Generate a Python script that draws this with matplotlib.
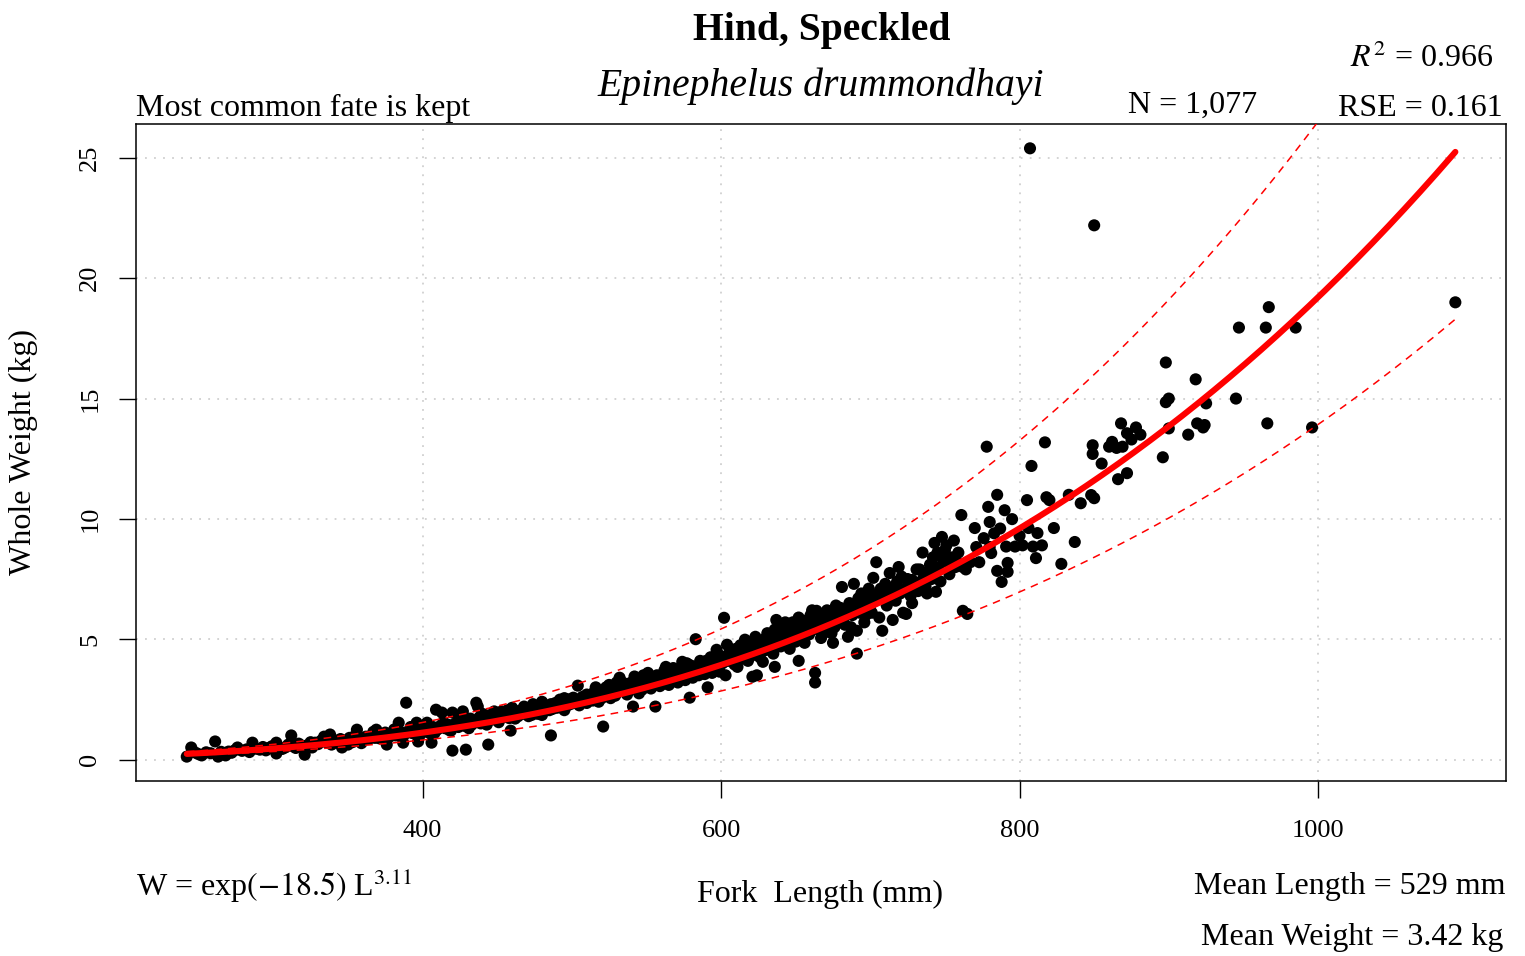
import numpy as np
import matplotlib
matplotlib.use("Agg")
import matplotlib.pyplot as plt

plt.rcParams["font.family"] = ["Liberation Serif", "DejaVu Serif"]
plt.rcParams["mathtext.fontset"] = "stix"

# fork length (mm) and whole weight (kg) of sampled fish
lengths = [
    242, 245, 248, 250, 252, 255, 258, 261, 263, 265, 268, 270, 272, 274, 276, 279, 282, 284, 286, 288,
    291, 293, 295, 297, 299, 302, 302, 304, 306, 308,
    310, 312, 313, 315, 317, 319, 321, 323, 325, 326, 328, 330, 332, 334, 336, 338, 339, 341, 343, 345,
    346, 348, 350, 351, 353, 355, 356, 358, 360, 362, 364, 366, 368, 369, 371, 373, 375, 376, 378, 380,
    382, 384, 385, 387, 388, 389, 391, 393, 395, 396, 397, 399, 401, 403, 404, 406, 407, 409, 410, 412,
    413, 415, 417, 418, 420, 420,
    422, 424, 425, 427, 428, 429, 430, 432, 433, 435, 436, 437, 438, 439, 441, 442, 444, 444, 446, 447,
    449, 450, 452, 453, 455, 456, 458, 459, 460, 461, 463, 464, 466, 467, 469, 470, 472, 473, 475, 476,
    478, 479, 481, 482, 484, 486, 486, 487, 489, 490, 492, 493, 495, 496, 498, 499, 501, 502, 504, 505,
    507, 508, 510, 511,
    513, 514, 516, 517, 519, 520, 521, 522, 524, 525, 527, 528, 530, 531, 532, 533, 535, 536, 538, 539,
    541, 541, 543, 544, 546, 547, 549, 550, 551, 552, 554, 555, 556, 557, 558, 560, 561, 563, 564, 566,
    567, 569, 570, 572, 573, 574, 575, 577, 577, 579, 579, 580, 582, 583, 584, 585, 587, 588, 590, 591,
    592, 594, 595, 596, 597, 598, 600, 601, 602, 603, 604, 605,
    607, 608, 610, 611, 612, 614, 615, 616, 617, 619, 620, 621, 622, 624, 624, 625, 627, 628, 629, 630,
    632, 633, 634, 636, 636, 637, 638, 639, 640, 641, 643, 644, 645, 647, 648, 649, 650, 651, 652, 652,
    654, 655, 657, 658, 659, 661, 661, 663, 663, 663, 664, 665, 666, 668, 669, 670, 672, 673, 675, 675,
    676, 678, 679, 680, 681, 682, 684, 685, 686, 687, 688, 689, 690, 691, 691, 692, 693, 695, 697, 698,
    700,
    702, 703, 704, 705, 706, 707, 708, 709, 710, 711, 712, 713, 714, 715, 716, 717, 718, 720, 721, 722,
    723, 724, 725, 726, 728, 728, 730, 731, 732, 733, 734, 735, 736, 737, 738, 739, 740, 741, 743, 744,
    744, 745, 746, 748, 749, 751, 752, 755, 757, 759, 761, 762, 762, 764, 765, 767, 770, 771, 773, 776,
    778, 779, 780, 780, 781, 783, 785, 785, 787, 788, 790, 791, 792, 792, 795, 797,
    800, 802, 805, 806, 807, 808, 809, 811, 812, 815, 817, 818, 820, 823, 828, 833, 837, 841, 848, 849,
    849, 850, 850, 855, 860, 862, 865, 866, 868, 869, 872, 872, 875, 878, 881, 896, 898, 898, 900, 900,
    913, 918, 919, 923, 924, 925, 945, 947, 965, 966, 967, 985, 996, 1092,
    354, 359, 367, 374, 381, 386, 392, 398, 402, 408, 414, 419, 426, 431, 440, 443, 448, 451, 457, 462,
    468, 471, 474, 477, 480, 480, 485, 495, 495, 505, 510, 515, 518, 523, 526, 529, 534, 537, 540, 542,
    545, 548, 553, 559, 562, 565, 568, 571, 576, 578, 581, 586, 589, 593, 599, 606, 609, 613, 618, 623,
    626, 631, 635, 642, 646, 653, 656, 660, 667, 671, 674, 677, 683, 694, 696, 699, 701, 719, 727, 742,
    747, 750, 753, 756, 758,
]
weights = [
    0.12, 0.50, 0.28, 0.22, 0.17, 0.30, 0.26, 0.75, 0.12, 0.32, 0.17, 0.33, 0.28, 0.38, 0.50, 0.36, 0.42, 0.31, 0.70, 0.45,
    0.41, 0.52, 0.38, 0.48, 0.55, 0.70, 0.25, 0.50, 0.44, 0.50,
    0.62, 1.00, 0.55, 0.48, 0.66, 0.58, 0.20, 0.60, 0.72, 0.50, 0.70, 0.64, 0.78, 0.95, 0.70, 1.04, 0.62, 0.80, 0.74, 0.85,
    0.50, 0.78, 0.62, 0.90, 0.72, 0.88, 1.24, 0.83, 0.78, 0.95, 0.85, 1.00, 0.90, 1.24, 0.88, 1.05, 1.12, 0.62, 0.95, 1.10,
    1.00, 1.53, 1.15, 0.70, 1.05, 2.36, 1.20, 1.10, 1.25, 1.53, 0.75, 1.18, 1.30, 1.53, 1.12, 0.70, 1.35, 2.07, 1.25, 1.40,
    1.95, 1.30, 1.45, 1.22, 0.37, 1.95,
    1.50, 1.35, 1.62, 2.00, 1.40, 0.41, 1.55, 1.70, 1.45, 1.60, 2.36, 2.20, 1.75, 1.50, 1.68, 1.85, 0.62, 1.60, 1.78, 1.90,
    1.65, 1.85, 1.70, 2.00, 1.80, 1.95, 1.72, 1.20, 2.15, 1.88, 2.00, 1.80, 2.05, 1.90, 2.10, 1.95, 2.07, 1.85, 2.20, 2.00,
    2.15, 1.92, 2.25, 2.05, 2.20, 1.00, 2.30, 2.10, 2.35, 2.15, 2.49, 2.25, 2.40, 2.20, 2.50, 2.30, 2.57, 2.35, 3.07, 2.45,
    2.60, 2.40, 2.70, 2.50,
    2.65, 2.45, 3.00, 2.60, 2.80, 2.55, 1.37, 2.85, 2.70, 3.10, 2.75, 2.95, 3.20, 2.80, 3.40, 2.90, 3.05, 2.85, 3.15, 2.95,
    2.20, 3.25, 3.00, 3.35, 3.10, 2.90, 3.30, 3.15, 3.60, 3.05, 3.40, 3.20, 2.20, 3.50, 3.25, 3.45, 3.15, 3.85, 3.35, 3.55,
    3.30, 3.70, 3.40, 3.60, 3.35, 4.06, 3.75, 4.00, 3.45, 2.57, 3.65, 3.90, 3.55, 5.00, 3.80, 3.50, 3.95, 3.70, 4.10, 3.00,
    3.80, 3.60, 4.20, 3.90, 4.56, 3.75, 4.30, 4.00, 5.89, 3.50, 4.77, 4.10,
    4.40, 4.15, 4.60, 3.85, 4.30, 4.70, 4.20, 4.98, 4.45, 4.85, 4.30, 3.44, 4.60, 3.50, 4.90, 4.45, 4.75, 4.06, 5.00, 4.55,
    4.85, 5.10, 4.60, 3.85, 5.40, 5.80, 4.90, 5.10, 4.70, 5.25, 5.70, 4.95, 5.30, 5.05, 5.70, 5.45, 4.90, 5.20, 5.90, 4.10,
    5.50, 5.10, 5.35, 5.80, 5.20, 6.20, 5.50, 3.60, 3.20, 5.70, 6.18, 5.40, 5.75, 5.55, 5.90, 5.30, 5.70, 6.10, 4.85, 5.80,
    5.50, 6.00, 5.70, 6.30, 7.17, 5.90, 6.20, 5.10, 6.50, 5.50, 6.00, 7.30, 6.40, 4.40, 5.35, 6.70, 6.10, 6.50, 6.00, 6.80,
    6.40,
    7.55, 6.60, 8.20, 6.90, 5.90, 7.10, 5.35, 6.70, 7.30, 6.40, 7.00, 7.75, 6.80, 5.80, 7.20, 6.60, 7.40, 6.90, 7.60, 6.10,
    7.10, 6.05, 7.50, 7.00, 7.46, 6.50, 7.30, 7.90, 7.00, 7.90, 7.40, 8.60, 7.60, 7.20, 6.90, 7.80, 8.10, 7.50, 9.00, 6.97,
    8.00, 8.60, 7.90, 9.25, 8.30, 8.90, 8.20, 8.40, 8.00, 8.60, 10.16, 6.18, 8.00, 7.90, 6.05, 8.20, 9.62, 8.83, 8.20, 9.20,
    13.00, 10.50, 9.87, 8.83, 8.58, 9.40, 11.00, 7.84, 9.60, 7.38, 10.36, 8.85, 8.17, 7.80, 9.99, 8.85,
    9.30, 8.90, 10.78, 9.62, 25.40, 12.20, 8.85, 8.37, 9.41, 8.90, 13.18, 10.90, 10.78, 9.62, 8.13, 11.00, 9.04, 10.65, 10.99, 13.06,
    12.70, 22.20, 10.86, 12.30, 13.00, 13.20, 12.95, 11.65, 13.97, 13.00, 13.56, 11.90, 13.30, 13.80, 13.50, 12.56, 16.50, 14.85, 15.00, 13.76,
    13.50, 15.80, 13.97, 13.80, 13.90, 14.80, 15.00, 17.95, 17.95, 13.97, 18.80, 17.95, 13.80, 19.00,
    0.95, 0.68, 1.15, 0.85, 1.25, 0.95, 1.35, 1.00, 1.45, 1.10, 1.55, 1.20, 1.75, 1.30, 1.90, 1.45, 2.00, 1.55, 2.05, 1.70,
    2.20, 1.80, 2.30, 1.90, 2.40, 1.85, 2.05, 2.55, 2.05, 2.25, 2.35, 2.80, 2.40, 3.00, 2.55, 2.65, 3.20, 2.70, 2.95, 3.45,
    2.75, 3.50, 2.95, 3.05, 3.70, 3.10, 3.80, 3.20, 3.30, 3.95, 3.40, 4.10, 3.55, 4.25, 3.65, 4.50, 3.95, 4.75, 4.10, 5.10,
    4.25, 5.25, 4.40, 5.50, 4.60, 5.75, 4.85, 6.00, 5.05, 6.20, 5.25, 6.40, 5.60, 6.90, 5.70, 7.10, 6.10, 8.00, 6.80, 8.40,
    7.40, 8.70, 7.70, 9.10, 8.20,
]

# fitted length-weight relation W = exp(a) * L^b
log_a = -18.5
b = 3.106
rse = 0.161

L = np.array(lengths, dtype=float)
W = np.array(weights, dtype=float)

fig = plt.figure(figsize=(15.25, 9.56), dpi=100)
ax = fig.add_axes([0.0892, 0.1831, 0.8984, 0.6872])

ax.scatter(L, W, s=76, color="black", edgecolors="none", zorder=3)

grid_L = np.linspace(L.min(), L.max(), 400)
fit = np.exp(log_a) * grid_L ** b
ax.plot(grid_L, fit, color="red", lw=4.4, zorder=4, solid_capstyle="round")
ax.plot(grid_L, fit * np.exp(2 * rse), color="red", lw=1.1, dashes=(5, 4), zorder=4)
ax.plot(grid_L, fit * np.exp(-2 * rse), color="red", lw=1.1, dashes=(5, 4), zorder=4)

# R-like 4% padding around the data range
xpad = 0.04 * (L.max() - L.min())
ypad = 0.04 * (W.max() - W.min())
ax.set_xlim(L.min() - xpad, L.max() + xpad)
ax.set_ylim(W.min() - ypad, W.max() + ypad)

ax.set_xticks([400, 600, 800, 1000])
ax.set_yticks([0, 5, 10, 15, 20, 25])
ax.grid(True, color="#d0d0d0", lw=1.3, dashes=(1, 4))
ax.set_axisbelow(True)
for sp in ax.spines.values():
    sp.set_linewidth(1.1)
ax.tick_params(axis="both", direction="out", length=12, width=1.0, labelsize=19)
ax.tick_params(axis="x", pad=16)
ax.tick_params(axis="y", pad=13, labelrotation=90)
for lab in ax.get_yticklabels():
    lab.set_verticalalignment("center")

fig.text(0.0157, 0.527, "Whole Weight (kg)", rotation=90, ha="center", va="center", fontsize=23)
fig.text(0.538, 0.064, "Fork  Length (mm)", ha="center", va="center", fontsize=23)

fig.text(0.539, 0.968, "Hind, Speckled", ha="center", va="center", fontsize=28.5, fontweight="bold")
fig.text(0.538, 0.910, "Epinephelus drummondhayi", ha="center", va="center", fontsize=28.5, style="italic")
fig.text(0.0892, 0.887, "Most common fate is kept", ha="left", va="center", fontsize=23)
fig.text(0.782, 0.890, "N = 1,077", ha="center", va="center", fontsize=23)
fig.text(0.979, 0.939, r"$R^2$ = 0.966", ha="right", va="center", fontsize=23)
fig.text(0.9856, 0.887, "RSE = 0.161", ha="right", va="center", fontsize=23)

fig.text(0.0892, 0.073, r"W = exp$\left(-18.5\right)$ L$^{3.11}$", ha="left", va="center", fontsize=23)
fig.text(0.9875, 0.073, "Mean Length = 529 mm", ha="right", va="center", fontsize=23)
fig.text(0.9855, 0.019, "Mean Weight = 3.42 kg", ha="right", va="center", fontsize=23)

fig.savefig("out.png", dpi=100)
